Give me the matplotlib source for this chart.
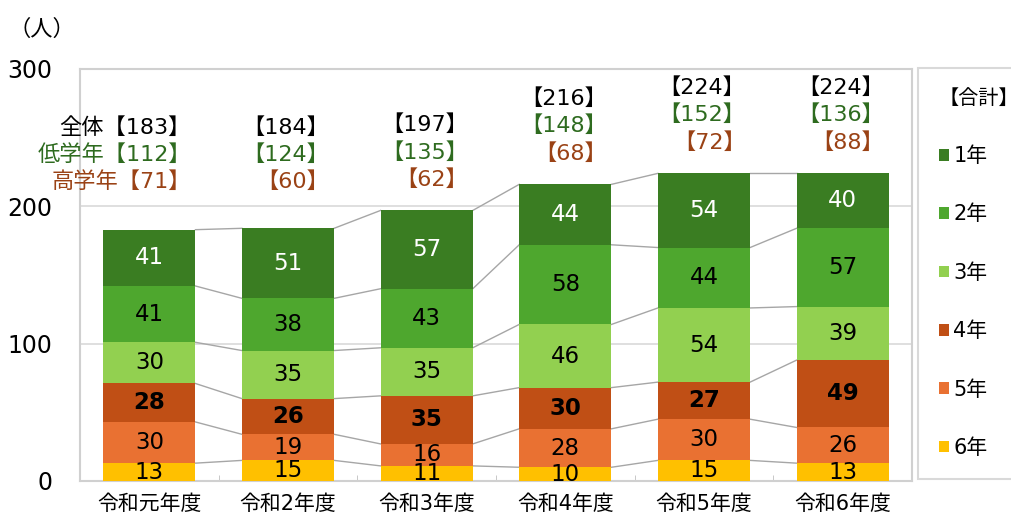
import matplotlib
matplotlib.use("Agg")
import matplotlib.pyplot as plt
import numpy as np

plt.rcParams['font.family'] = ['DejaVu Sans', 'Noto Sans CJK JP']

categories = ['令和元年度', '令和2年度', '令和3年度', '令和4年度', '令和5年度', '令和6年度']
series_names = ['6年', '5年', '4年', '3年', '2年', '1年']
g6 = [13, 15, 11, 10, 15, 13]
g5 = [30, 19, 16, 28, 30, 26]
g4 = [28, 26, 35, 30, 27, 49]
g3 = [30, 35, 35, 46, 54, 39]
g2 = [41, 38, 43, 58, 44, 57]
g1 = [41, 51, 57, 44, 54, 40]
total = [183, 184, 197, 216, 224, 224]
lower = [112, 124, 135, 148, 152, 136]
upper = [71, 60, 62, 68, 72, 88]
yticks = [0, 100, 200, 300]

colors = ['#FFC000', '#E97132', '#C04F15', '#92D050', '#4EA72E', '#3A7D22']
label_colors = ['black', 'black', 'black', 'black', 'black', 'white']
label_weights = ['normal', 'normal', 'bold', 'normal', 'normal', 'normal']

fig = plt.figure(figsize=(10.11, 5.18), dpi=100)
ax = fig.add_axes([80/1011, 1-481/518, (912-80)/1011, (481-69)/518])

x = np.arange(len(categories))
width = 0.665
data = [g6, g5, g4, g3, g2, g1]
bottom = np.zeros(len(categories))
handles = []
for vals, name, c, lc, lw in zip(data, series_names, colors, label_colors, label_weights):
    vals = np.array(vals, dtype=float)
    bars = ax.bar(x, vals, width, bottom=bottom, color=c, label=name, zorder=3)
    handles.append(bars)
    ax.bar_label(bars, labels=[str(int(v)) for v in vals], label_type='center',
                 color=lc, fontsize=16.5, fontweight=lw, zorder=5)
    top = bottom + vals
    for i in range(len(categories) - 1):
        ax.plot([x[i] + width/2, x[i+1] - width/2], [top[i], top[i+1]],
                color='#A6A6A6', lw=1.0, zorder=2)
    bottom = top

# annotations
for i in range(len(categories)):
    base = max(total[i], 195)
    xr = x[i] + 0.30
    t1 = f'【{total[i]}】'
    t2 = f'【{lower[i]}】'
    t3 = f'【{upper[i]}】'
    if i == 0:
        t1 = '全体' + t1
        t2 = '低学年' + t2
        t3 = '高学年' + t3
    ax.annotate(t3, (xr, base), xytext=(0, 22.5), textcoords='offset points',
                ha='right', va='center', fontsize=16, color='#9A4215')
    ax.annotate(t2, (xr, base), xytext=(0, 42), textcoords='offset points',
                ha='right', va='center', fontsize=16, color='#2E6B1F')
    ax.annotate(t1, (xr, base), xytext=(0, 61.5), textcoords='offset points',
                ha='right', va='center', fontsize=16, color='black')

ax.set_xlim(-0.5, len(categories) - 0.5)
ax.set_ylim(0, 300)
ax.set_yticks(yticks)
ax.set_yticklabels([str(v) for v in yticks], fontsize=17)
ax.set_xticks(x)
ax.set_xticklabels(categories, fontsize=15)
ax.tick_params(axis='y', length=0, pad=20)
ax.tick_params(axis='x', length=0, pad=9)
ax.set_xticks(np.arange(len(categories) - 1) + 0.5, minor=True)
ax.tick_params(axis='x', which='minor', direction='in', length=4, color='#BFBFBF')
ax.grid(axis='y', color='#D9D9D9', lw=1.2, zorder=0)
for s in ax.spines.values():
    s.set_color('#D0D0D0')
    s.set_linewidth(1.5)

fig.text(8/1011, 1-29/518, '（人）', fontsize=16, va='center', ha='left')

leg = fig.legend(handles[::-1], series_names[::-1], loc='upper left',
                 bbox_to_anchor=(918/1011, 1-68/518), title='【合計】',
                 fontsize=15, title_fontsize=14.5, frameon=True, fancybox=False,
                 edgecolor='#D0D0D0', labelspacing=1.84, handlelength=0.5,
                 handleheight=0.5, handletextpad=0.2, borderpad=1.0,
                 borderaxespad=0)
leg.get_frame().set_linewidth(1.5)
leg._legend_box.align = 'left'

fig.savefig('out.png', dpi=100)
